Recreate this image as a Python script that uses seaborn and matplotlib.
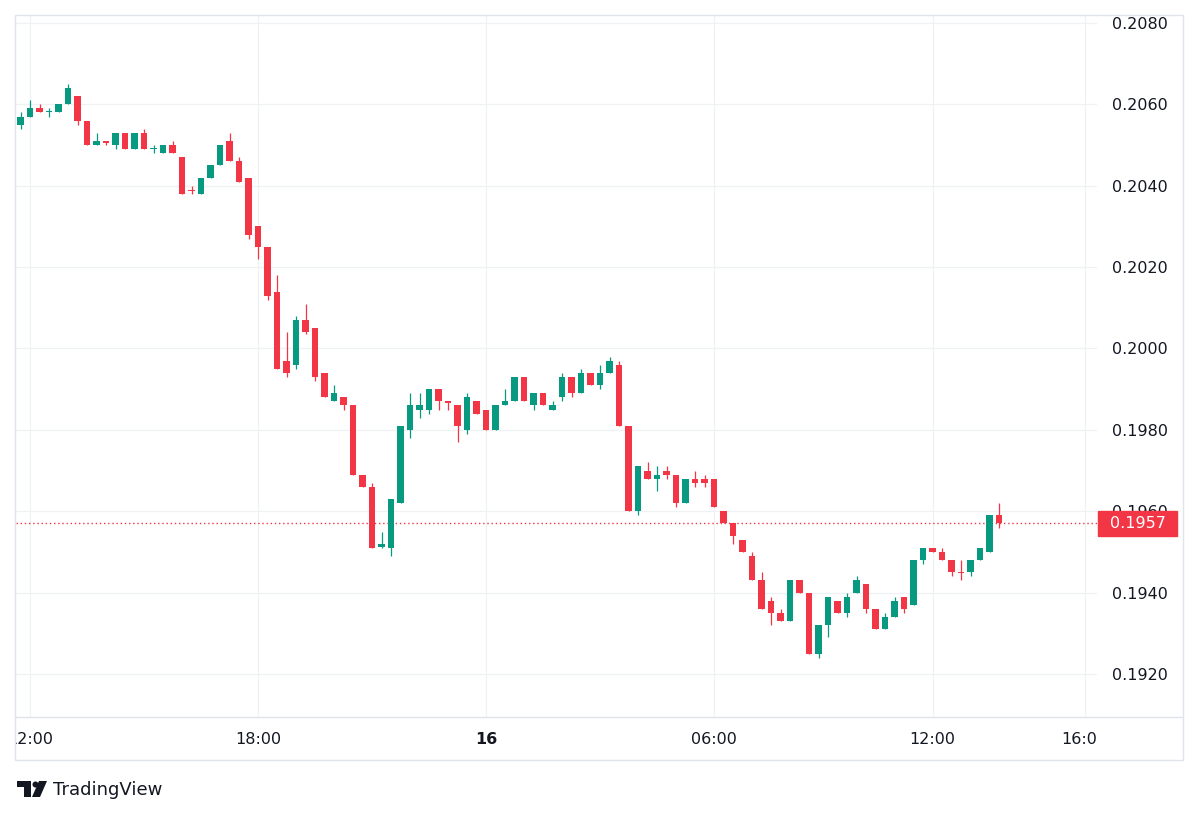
import numpy as np
import matplotlib
matplotlib.use("Agg")
import matplotlib.pyplot as plt
import seaborn as sns
from matplotlib.patches import Rectangle, Circle, Polygon
from matplotlib.transforms import Bbox, TransformedBbox, blended_transform_factory

GREEN = "#089981"
RED = "#F23645"
TEXT = "#131722"
GRID = "#EFF1F5"
BORDER = "#E0E3EB"

# 15 minute candles (15th 11:45 -> 16th 13:30)
opens = [0.2055, 0.2057, 0.2059, 0.2058, 0.2058, 0.2060, 0.2062, 0.2056, 0.2050, 0.2051,
         0.2050, 0.2053, 0.2049, 0.2053, 0.2049, 0.2048, 0.2050, 0.2047, 0.20390, 0.2038,
         0.2042, 0.2045, 0.2051, 0.2046, 0.2042, 0.2030, 0.2025, 0.2014, 0.1997, 0.1996,
         0.2007, 0.2005, 0.1994, 0.1987, 0.1988, 0.1986, 0.1969, 0.1966, 0.19512, 0.1951,
         0.1962, 0.1980, 0.1985, 0.1985, 0.1990, 0.1987, 0.1986, 0.1980, 0.1987, 0.1985,
         0.1980, 0.1986, 0.1987, 0.1993, 0.1986, 0.1989, 0.1985, 0.1988, 0.1993, 0.1989,
         0.1994, 0.1991, 0.1994, 0.1996, 0.1981, 0.1960, 0.1970, 0.1968, 0.1970, 0.1969,
         0.1962, 0.1968, 0.1968, 0.1968, 0.1960, 0.1957, 0.1953, 0.1949, 0.1943, 0.1938,
         0.1935, 0.1933, 0.1943, 0.1940, 0.1925, 0.1932, 0.1938, 0.1935, 0.1940, 0.1942,
         0.1936, 0.1931, 0.1934, 0.1939, 0.1937, 0.1948, 0.1951, 0.1950, 0.1948, 0.19451,
         0.1945, 0.1948, 0.1950, 0.1959]
highs = [0.2058, 0.2061, 0.2060, 0.2059, 0.2060, 0.2065, 0.2062, 0.2056, 0.2053, 0.2051,
         0.2053, 0.2053, 0.2053, 0.2054, 0.2050, 0.2050, 0.2051, 0.2047, 0.2040, 0.2042,
         0.2045, 0.2050, 0.2053, 0.2047, 0.2042, 0.2030, 0.2025, 0.2018, 0.2004, 0.2008,
         0.2011, 0.2005, 0.1994, 0.1991, 0.1988, 0.1986, 0.1969, 0.1967, 0.1955, 0.1963,
         0.1981, 0.1989, 0.1989, 0.1990, 0.1990, 0.1987, 0.1986, 0.1989, 0.1987, 0.1985,
         0.1986, 0.1990, 0.1993, 0.1993, 0.1989, 0.1989, 0.1987, 0.1994, 0.1993, 0.1995,
         0.1994, 0.1996, 0.1998, 0.1997, 0.1981, 0.1971, 0.1972, 0.1971, 0.1971, 0.1969,
         0.1968, 0.1970, 0.1969, 0.1968, 0.1960, 0.1957, 0.1953, 0.1950, 0.1945, 0.1939,
         0.1936, 0.1943, 0.1943, 0.1940, 0.1932, 0.1939, 0.1938, 0.1940, 0.1944, 0.1942,
         0.1936, 0.1935, 0.1939, 0.1939, 0.1948, 0.1951, 0.1951, 0.1951, 0.1948, 0.1948,
         0.1948, 0.1951, 0.1959, 0.1962]
lows = [0.2054, 0.2057, 0.2058, 0.2057, 0.2058, 0.2060, 0.2055, 0.2050, 0.2050, 0.2050,
        0.2049, 0.2049, 0.2049, 0.2049, 0.2048, 0.2048, 0.2048, 0.2038, 0.2038, 0.2038,
        0.2042, 0.2045, 0.2046, 0.2041, 0.2027, 0.2022, 0.2012, 0.1995, 0.1993, 0.1995,
        0.20035, 0.1992, 0.1988, 0.1987, 0.1985, 0.1969, 0.1966, 0.1951, 0.1951, 0.1949,
        0.1962, 0.1978, 0.1983, 0.1984, 0.1985, 0.1985, 0.1977, 0.1979, 0.1984, 0.1980,
        0.1980, 0.1986, 0.1987, 0.1987, 0.1985, 0.1986, 0.1985, 0.1987, 0.1988, 0.1989,
        0.1991, 0.1990, 0.1994, 0.1981, 0.1960, 0.1959, 0.1968, 0.1965, 0.1968, 0.1961,
        0.1962, 0.1966, 0.1966, 0.1961, 0.1957, 0.1952, 0.1950, 0.1943, 0.1936, 0.1932,
        0.1933, 0.1933, 0.1940, 0.1925, 0.1924, 0.1929, 0.1935, 0.1934, 0.1940, 0.1935,
        0.1931, 0.1931, 0.1934, 0.1935, 0.1937, 0.1947, 0.1950, 0.1948, 0.1944, 0.1943,
        0.1944, 0.1948, 0.1950, 0.1956]
closes = [0.2057, 0.2059, 0.2058, 0.2058, 0.2060, 0.2064, 0.2056, 0.2050, 0.2051, 0.20505,
          0.2053, 0.2049, 0.2053, 0.2049, 0.2049, 0.2050, 0.2048, 0.2038, 0.20387, 0.2042,
          0.2045, 0.2050, 0.2046, 0.2041, 0.2028, 0.2025, 0.2013, 0.1995, 0.1994, 0.2007,
          0.2004, 0.1993, 0.1988, 0.1989, 0.1986, 0.1969, 0.1966, 0.1951, 0.1952, 0.1963,
          0.1981, 0.1986, 0.1986, 0.1990, 0.1987, 0.19866, 0.1981, 0.1988, 0.1984, 0.1980,
          0.1986, 0.1987, 0.1993, 0.1987, 0.1989, 0.1986, 0.1986, 0.1993, 0.1989, 0.1994,
          0.1991, 0.1994, 0.1997, 0.1981, 0.1960, 0.1971, 0.1968, 0.1969, 0.1969, 0.1962,
          0.1968, 0.1967, 0.1967, 0.1961, 0.1957, 0.1954, 0.1950, 0.1943, 0.1936, 0.1935,
          0.1933, 0.1943, 0.1940, 0.1925, 0.1932, 0.1939, 0.1935, 0.1939, 0.1943, 0.1936,
          0.1931, 0.1934, 0.1938, 0.1936, 0.1948, 0.1951, 0.1950, 0.1948, 0.1945, 0.19448,
          0.1948, 0.1951, 0.1959, 0.1957]

time_ticks = [1, 25, 49, 73, 96, 112]  # candle index of each time label
time_labels = ["12:00", "18:00", "16", "06:00", "12:00", "16:00"]
price_ticks = [0.1920, 0.1940, 0.1960, 0.1980, 0.2000, 0.2020, 0.2040, 0.2060, 0.2080]

sns.set_theme(style="white")
plt.rcParams["font.family"] = ["DejaVu Sans"]

o = np.array(opens)
h = np.array(highs)
l = np.array(lows)
c = np.array(closes)
x = np.arange(len(o))
cols = np.where(c >= o, GREEN, RED)

fig = plt.figure(figsize=(12, 8.17), dpi=100)
ax = fig.add_axes([15.5 / 1200, 100 / 817, (1097 - 15.5) / 1200, 702 / 817])
ax.set_facecolor("white")

# wicks then bodies
ax.vlines(x, l, h, colors=cols, linewidth=0.9, zorder=2)
body = np.maximum(np.abs(c - o), 0.00003)
ax.bar(x, body, bottom=np.minimum(o, c), width=0.7, color=cols, linewidth=0, zorder=3)

ax.set_xlim(-0.53, 113.3)
ax.set_ylim(0.190943, 0.208196)

ax.set_yticks(price_ticks)
ax.set_yticklabels([f"{p:.4f}" for p in price_ticks])
ax.set_xticks(time_ticks)
ax.set_xticklabels(time_labels)
ax.yaxis.tick_right()
ax.tick_params(axis="y", length=0, pad=10.5, labelsize=11.5, labelcolor=TEXT)
ax.tick_params(axis="x", length=0, pad=11, labelsize=11.5, labelcolor=TEXT)
ax.grid(True, color=GRID, linewidth=0.9)
ax.set_axisbelow(True)
sns.despine(ax=ax, left=True, bottom=True, right=True, top=True)

# time labels get cut at the pane edges, as in the reference
clip = TransformedBbox(Bbox([[15.5 / 1200, 0], [1097 / 1200, 1]]), fig.transFigure)
for lab in ax.get_xticklabels():
    lab.set_clip_box(clip)
    lab.set_clip_on(True)
ax.get_xticklabels()[2].set_fontweight("bold")

# last price line and its label
last = c[-1]
ax.axhline(last, color=RED, linewidth=1.0, linestyle=(0, (1, 2)), zorder=1)
trans = blended_transform_factory(fig.transFigure, ax.transData)
ax.add_patch(Rectangle((1098 / 1200, last - 0.000307), 79 / 1200, 0.000614,
                       transform=trans, color=RED, clip_on=False, zorder=5))
ax.text(1137.5 / 1200, last, f"{last:.4f}", transform=trans, ha="center", va="center",
        color="white", fontsize=11.5, clip_on=False, zorder=6)

# frame and branding in pixel coordinates
over = fig.add_axes([0, 0, 1, 1], zorder=10)
over.set_xlim(0, 1200)
over.set_ylim(817, 0)
over.axis("off")
over.patch.set_alpha(0)
over.add_patch(Rectangle((15, 15), 1168, 745, fill=False, edgecolor=BORDER, linewidth=1))
over.plot([15, 1183], [717, 717], color=BORDER, linewidth=1)
over.add_patch(Rectangle((17, 781), 14, 6, color=TEXT, linewidth=0))
over.add_patch(Rectangle((24, 781), 7, 16, color=TEXT, linewidth=0))
over.add_patch(Circle((35.5, 784.5), 3, color=TEXT, linewidth=0))
over.add_patch(Polygon([(39, 781), (47, 781), (40, 797), (32, 797)], color=TEXT, linewidth=0))
over.text(53, 790, "TradingView", ha="left", va="center", fontsize=13, color=TEXT)

fig.savefig("out.png", dpi=100)
